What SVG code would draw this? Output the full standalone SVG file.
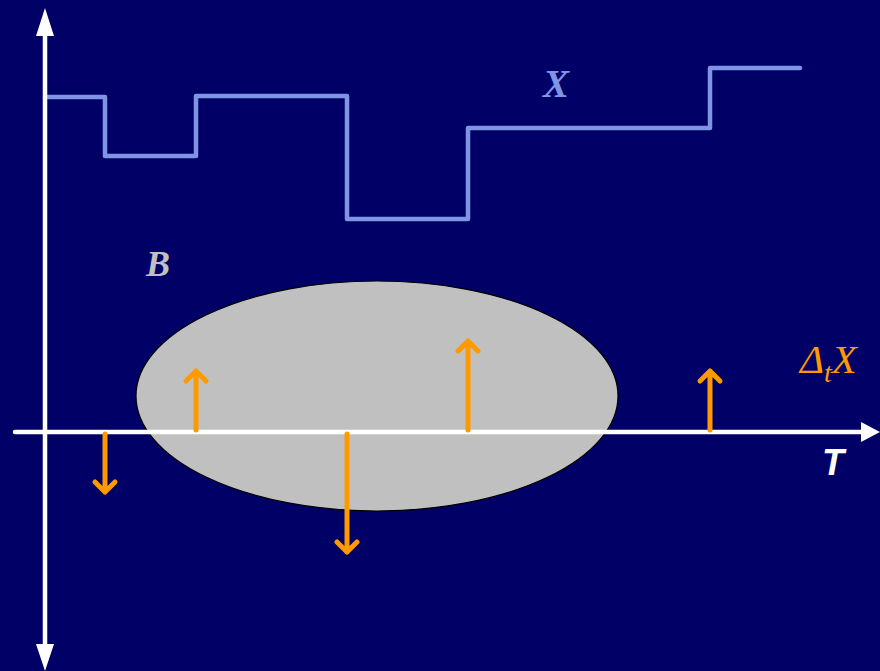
<svg xmlns="http://www.w3.org/2000/svg" width="880" height="671" viewBox="0 0 880 671">
<defs>
<style>
.axis{stroke:#FFFFFF;stroke-width:4.5;fill:none;stroke-linecap:round}
.stair{stroke:#8094E6;stroke-width:4.5;fill:none;stroke-linecap:round;stroke-linejoin:round}
.incr{stroke:#FF9900;stroke-width:5;fill:none;stroke-linecap:round;stroke-linejoin:round}
.lbl{font-family:"Liberation Serif",serif;font-style:italic}
</style>
</defs>
<rect width="880" height="671" fill="#000066"/>
<g id="set-B">
<ellipse cx="377" cy="396" rx="241" ry="115" fill="#C0C0C0" stroke="#000000" stroke-width="1.2"/>
<text class="lbl" x="146" y="276" font-size="36" font-weight="bold" fill="#C0C0C0">B</text>
</g>
<g id="process-X">
<path class="stair" d="M45,97 H105 V156 H196 V96 H347 V219 H468 V128 H710 V68 H800"/>
<text class="lbl" x="543" y="97" font-size="39" font-weight="bold" fill="#8094E6">X</text>
</g>
<g id="connectors">
<line class="axis" x1="15" y1="432" x2="866" y2="432"/>
<polygon points="880,432 861,422 861,442" fill="#FFFFFF"/>
<line x1="45" y1="30" x2="45" y2="650" stroke="#FFFFFF" stroke-width="4.5"/>
<polygon points="45,8 36,36 54,36" fill="#FFFFFF"/>
<polygon points="45,671 36,644 54,644" fill="#FFFFFF"/>
</g>
<g id="jumps">
<path class="incr" d="M105,434 V492 M95,482 L105,492 L115,482"/>
<path class="incr" d="M196,430 V371 M186,381 L196,371 L206,381"/>
<path class="incr" d="M347,434 V552 M337,542 L347,552 L357,542"/>
<path class="incr" d="M468,430 V341 M458,351 L468,341 L478,351"/>
<path class="incr" d="M710,430 V371 M700,381 L710,371 L720,381"/>
</g>
<g id="label-deltaX">
<text class="lbl" x="800" y="373" font-size="41" fill="#FF9900">Δ<tspan font-size="28" dy="9">t</tspan><tspan font-size="41" dy="-9">X</tspan></text>
</g>
<g id="label-T">
<text x="822" y="475" font-family="Liberation Sans,Arial,sans-serif" font-size="36" font-weight="bold" font-style="italic" fill="#FFFFFF">T</text>
</g>
</svg>
